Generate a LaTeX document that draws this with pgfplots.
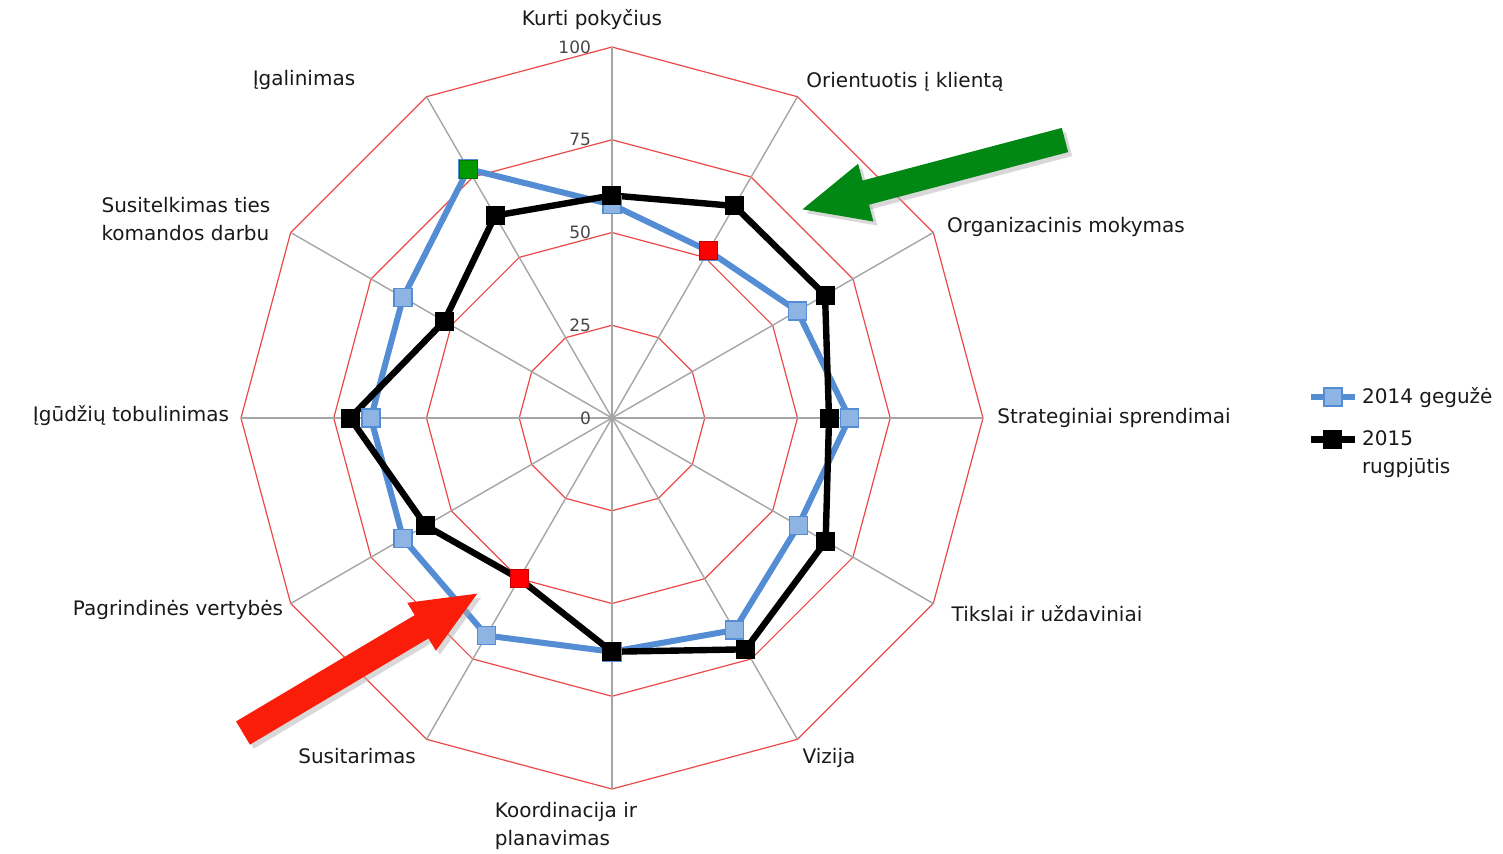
\documentclass[border=0pt]{standalone}
\usepackage{pgfplots}
\pgfplotsset{compat=1.18}
\usepgfplotslibrary{polar}
\usetikzlibrary{arrows.meta}
\usepackage{fontspec}
\setmainfont{DejaVu Sans}
\definecolor{ring}{RGB}{236,72,72}
\definecolor{spoke}{RGB}{165,165,165}
\definecolor{blueline}{RGB}{84,141,212}
\definecolor{bluefill}{RGB}{141,180,226}
\definecolor{arrowgreen}{RGB}{0,135,20}
\definecolor{arrowred}{RGB}{250,30,10}
\definecolor{txt}{RGB}{25,25,25}
\definecolor{ticktxt}{RGB}{70,70,70}
\begin{document}
\begin{tikzpicture}[font=\fontsize{10}{14}\selectfont, text=txt]
\begin{polaraxis}[
  at={(0,0)}, anchor=center,
  scale only axis, width=371pt, height=371pt,
  xmin=0, xmax=360, ymin=0, ymax=100,
  hide axis, clip=false,
  legend style={draw=none, fill=none, font=\fontsize{10}{14}\selectfont,
    cells={anchor=west}, row sep=8pt,
    at={(axis description cs:1.429,0.5)}, anchor=west},
  legend image code/.code={\draw[mark repeat=2, mark phase=2, #1] plot coordinates {(0pt,0pt) (11pt,0pt) (22pt,0pt)};},
]
% rings
\addplot[ring, line width=0.6pt, forget plot] coordinates {(90,25)(60,25)(30,25)(0,25)(330,25)(300,25)(270,25)(240,25)(210,25)(180,25)(150,25)(120,25)(90,25)};
\addplot[ring, line width=0.6pt, forget plot] coordinates {(90,50)(60,50)(30,50)(0,50)(330,50)(300,50)(270,50)(240,50)(210,50)(180,50)(150,50)(120,50)(90,50)};
\addplot[ring, line width=0.6pt, forget plot] coordinates {(90,75)(60,75)(30,75)(0,75)(330,75)(300,75)(270,75)(240,75)(210,75)(180,75)(150,75)(120,75)(90,75)};
\addplot[ring, line width=0.6pt, forget plot] coordinates {(90,100)(60,100)(30,100)(0,100)(330,100)(300,100)(270,100)(240,100)(210,100)(180,100)(150,100)(120,100)(90,100)};
% spokes
\addplot[spoke, line width=0.7pt, forget plot] coordinates {(90,100)(270,100)};
\addplot[spoke, line width=0.7pt, forget plot] coordinates {(60,100)(240,100)};
\addplot[spoke, line width=0.7pt, forget plot] coordinates {(30,100)(210,100)};
\addplot[spoke, line width=0.7pt, forget plot] coordinates {(0,100)(180,100)};
\addplot[spoke, line width=0.7pt, forget plot] coordinates {(330,100)(150,100)};
\addplot[spoke, line width=0.7pt, forget plot] coordinates {(300,100)(120,100)};
% 2014 geguze
\addplot[blueline, line width=3pt, mark=square*, mark size=4.5pt,
  mark options={fill=bluefill, draw=blueline, line width=0.8pt}]
  coordinates {(90,57.5)(60,52)(30,57.7)(0,64)(330,58)(300,66)(270,63)(240,67.7)(210,65)(180,65)(150,65)(120,77.5)(90,57.5)};
\addlegendentry{2014 gegužė}
% 2015 rugpjutis
\addplot[black, line width=3.2pt, mark=square*, mark size=4.5pt,
  mark options={fill=black, draw=black, line width=0.5pt}]
  coordinates {(90,60)(60,66)(30,66.3)(0,58.5)(330,66.5)(300,72)(270,63)(240,50)(210,58)(180,70.6)(150,52.2)(120,63)(90,60)};
\addlegendentry{2015}
% highlighted points
\addplot[only marks, mark=square*, mark size=4.5pt, mark options={fill=red, draw=red!75!black, line width=0.5pt}, forget plot]
  coordinates {(60,52)(240,50)};
\addplot[only marks, mark=square*, mark size=4.5pt, mark options={fill=green!60!black, draw=green!45!black, line width=0.5pt}, forget plot]
  coordinates {(120,77.5)};
\end{polaraxis}
% second line of legend entry
\node[anchor=base west, inner sep=0pt] at (374.8pt,-27.5pt) {rugpjūtis};
% tick labels
\begin{scope}[font=\fontsize{8.5}{10}\selectfont, text=ticktxt]
\node[anchor=east] at (-7pt,0pt) {0};
\node[anchor=east] at (-7pt,46.4pt) {25};
\node[anchor=east] at (-7pt,92.75pt) {50};
\node[anchor=east] at (-7pt,139.1pt) {75};
\node[anchor=east] at (-7pt,185.5pt) {100};
\end{scope}
% category labels
\node at (-10pt,199pt) {Kurti pokyčius};
\node at (146.5pt,168pt) {Orientuotis į klientą};
\node at (227pt,95.5pt) {Organizacinis mokymas};
\node at (251pt,0pt) {Strateginiai sprendimai};
\node at (217.5pt,-98pt) {Tikslai ir uždaviniai};
\node at (108.5pt,-170pt) {Vizija};
\node[align=left] at (-23pt,-204pt) {Koordinacija ir\\planavimas};
\node at (-127.5pt,-169pt) {Susitarimas};
\node at (-217pt,-96pt) {Pagrindinės vertybės};
\node at (-240.5pt,1pt) {Įgūdžių tobulinimas};
\node[align=left] at (-213pt,99.5pt) {Susitelkimas ties\\komandos darbu};
\node at (-154pt,169pt) {Įgalinimas};
% arrows
\draw[gray!60, opacity=0.5, line width=12.5pt, -{Triangle[length=34pt,width=27pt]}] (228.5pt,137pt) -- (96pt,102pt);
\draw[arrowgreen, line width=12.5pt, -{Triangle[length=34pt,width=27pt]}] (226.5pt,139pt) -- (94pt,104pt);
\draw[gray!60, opacity=0.5, line width=13.5pt, -{Triangle[length=34pt,width=25pt]}] (-182.5pt,-159.5pt) -- (-64pt,-89pt);
\draw[arrowred, line width=13.5pt, -{Triangle[length=34pt,width=25pt]}] (-184.5pt,-157.5pt) -- (-66pt,-87pt);
\pgfresetboundingbox
\useasboundingbox (-306pt,-217.5pt) rectangle (445.5pt,209pt);
\end{tikzpicture}
\end{document}
